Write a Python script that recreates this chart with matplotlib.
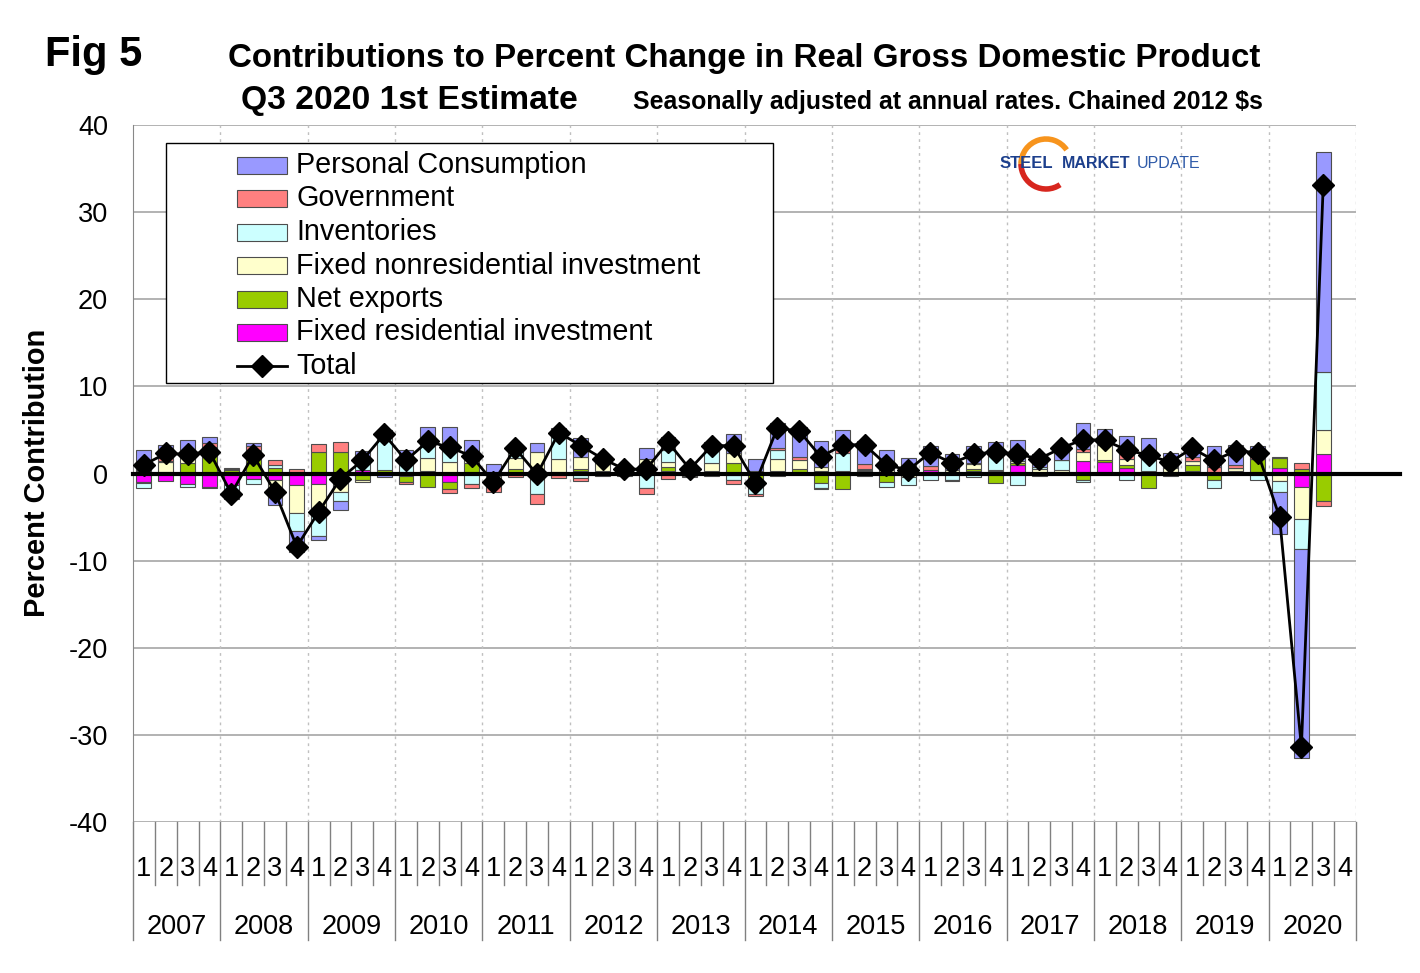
import numpy as np
import matplotlib
matplotlib.use("Agg")
import matplotlib.pyplot as plt
from matplotlib.patches import Rectangle, Arc
from matplotlib.lines import Line2D
import matplotlib.transforms as mtransforms

plt.rcParams['font.family'] = ['Liberation Sans', 'DejaVu Sans']
plt.rcParams['axes.unicode_minus'] = False

# ---- data (percentage points, SAAR), 2007Q1 .. 2020Q3 ----
years = ['2007', '2008', '2009', '2010', '2011', '2012', '2013',
         '2014', '2015', '2016', '2017', '2018', '2019', '2020']
quarter_labels = ['1', '2', '3', '4']

personal_consumption = [2.3, 1.5, 1.4, 0.7, -0.9, 0.3, -2.0, -2.4, -0.45, -1.05, 1.3, -0.4,
                        0.65, 2.1, 2.1, 1.7, 1.1, 0.45, 1.0, 0.4, 2.15, 0.5, 0.4, 1.2,
                        1.45, 0.3, 1.0, 2.2, 1.4, 2.9, 3.35, 2.9, 2.35, 2.6, 2.1, 1.2,
                        2.3, 1.8, 1.9, 1.1, 2.4, 1.5, 1.45, 3.0, 1.8, 2.0, 2.4, 1.65,
                        1.2, 2.4, 2.3, 1.1, -4.8, -24.0, 25.3]
government = [0.1, 0.4, 0.2, 0.5, 0.15, 0.4, 0.55, 0.55, 0.85, 1.1, 0.1, 0.0,
              -0.25, 0.1, -0.45, -0.55, -0.9, -0.4, -1.15, -0.3, -0.3, -0.3, 0.1, -0.6,
              -0.6, -0.1, -0.3, -0.45, -0.3, 0.2, 0.35, -0.1, 0.25, 0.6, 0.2, 0.2,
              0.5, -0.1, 0.2, 0.1, 0.0, 0.0, 0.05, 0.35, 0.1, 0.55, 0.0, 0.0,
              0.55, 0.75, 0.4, 0.35, 0.1, 0.7, -0.65]
inventories = [-0.6, 0.1, -0.3, -0.1, -0.65, -0.6, 0.4, -2.1, -2.6, -1.0, 0.8, 4.5,
               1.85, 1.3, 1.9, -1.15, -0.6, 1.1, -2.4, 3.1, -0.55, 0.2, -0.2, -1.7,
               1.35, 0.1, 1.4, -0.6, -1.6, 1.05, -0.1, -0.6, 2.1, -0.3, -0.6, -0.9,
               -0.7, -0.7, -0.4, 2.0, -1.3, 0.2, 1.2, -0.3, 0.0, -0.75, 1.35, 0.1,
               0.0, -0.95, 0.0, -0.75, -1.25, -3.5, 6.6]
fixed_nonres = [0.3, 1.1, 1.05, 0.4, 0.1, 0.15, -0.9, -3.2, -3.45, -1.7, -0.2, 0.1,
                0.2, 1.5, 1.35, 0.9, -0.3, 1.2, 2.45, 1.5, 1.4, 1.0, -0.1, 1.1,
                0.55, 0.2, 0.9, 1.1, 0.3, 1.45, 1.1, 0.5, 0.1, 0.1, 0.15, -0.3,
                -0.1, 0.2, 0.5, 0.1, 0.2, 0.5, 0.3, 1.05, 1.7, 0.75, 0.3, 0.4,
                0.45, 0.0, 0.3, 0.0, -0.85, -3.6, 2.8]
net_exports = [-0.1, 0.2, 1.15, 2.6, 0.4, 2.6, 0.6, 0.0, 2.5, 2.5, -0.75, 0.3,
               -0.65, -1.55, -0.85, 1.1, -0.2, 0.5, 0.0, -0.2, 0.2, 0.1, 0.05, 0.2,
               0.5, -0.3, 0.1, 1.2, -0.6, -0.3, 0.3, -1.05, -1.75, 0.1, -0.95, -0.1,
               0.0, 0.2, 0.3, -1.1, 0.2, -0.25, -0.1, -0.7, 0.25, 0.3, -1.7, -0.3,
               0.65, -0.75, 0.1, 1.5, 1.15, 0.5, -3.1]
fixed_res = [-1.0, -0.85, -1.2, -1.6, -1.35, -0.65, -0.7, -1.35, -1.15, -0.4, 0.35, 0.05,
             -0.3, 0.3, -0.95, 0.1, -0.1, 0.05, 0.0, 0.2, 0.3, 0.2, 0.25, 0.4,
             0.3, 0.3, 0.2, -0.2, -0.1, 0.25, 0.2, 0.3, 0.2, 0.3, 0.2, 0.35,
             0.4, -0.1, 0.25, 0.3, 1.0, 0.0, 0.05, 1.4, 1.3, 0.65, 0.0, 0.2,
             0.3, 0.0, 0.2, 0.2, 0.65, -1.6, 2.2]
total = [1.0, 2.3, 2.2, 2.5, -2.3, 2.1, -2.1, -8.4, -4.4, -0.6, 1.5, 4.5,
         1.5, 3.7, 3.0, 2.0, -1.0, 2.9, -0.1, 4.7, 3.2, 1.7, 0.5, 0.5,
         3.6, 0.5, 3.2, 3.2, -1.1, 5.2, 4.9, 1.9, 3.3, 3.3, 1.0, 0.4,
         2.4, 1.2, 2.2, 2.5, 2.2, 1.7, 2.9, 3.9, 3.8, 2.7, 2.1, 1.3,
         2.9, 1.5, 2.6, 2.4, -5.0, -31.4, 33.1]

# stacking order (from zero outward), colours
series = [
    ('Fixed residential investment', fixed_res, '#ff00ff'),
    ('Net exports', net_exports, '#99cc00'),
    ('Fixed nonresidential investment', fixed_nonres, '#ffffcc'),
    ('Inventories', inventories, '#ccffff'),
    ('Government', government, '#ff8080'),
    ('Personal Consumption', personal_consumption, '#9999ff'),
]

W, H = 1420, 973
fig = plt.figure(figsize=(W / 100, H / 100), dpi=100)
ax = fig.add_axes([133 / W, 1 - 822 / H, (1356 - 133) / W, (822 - 125) / H])

n_slots = len(years) * 4
x = np.arange(len(total))
pos_bottom = np.zeros(len(total))
neg_bottom = np.zeros(len(total))
for name, vals, col in series:
    v = np.array(vals)
    bottom = np.where(v >= 0, pos_bottom, neg_bottom)
    ax.bar(x, v, width=0.68, bottom=bottom, color=col, edgecolor='#4d4d4d',
           linewidth=0.8, zorder=2)
    pos_bottom += np.where(v >= 0, v, 0)
    neg_bottom += np.where(v < 0, v, 0)

ax.plot(x, total, color='black', lw=2, marker='D', markersize=11, zorder=5)

# zero line runs past the plot edge
ax.axhline(0, xmin=0, xmax=(1400 - 133) / (1356 - 133), color='black', lw=3,
           zorder=4, clip_on=False)

ax.set_xlim(-0.5, n_slots - 0.5)
ax.set_ylim(-40, 40)
ax.set_yticks(range(-40, 41, 10))
ax.tick_params(axis='y', labelsize=19.5, length=0, pad=18)
ax.set_xticks([])
for s in ['top', 'right', 'bottom']:
    ax.spines[s].set_visible(False)
ax.spines['left'].set_color('#888888')
ax.yaxis.grid(True, color='#a6a6a6', lw=1.2)
ax.set_axisbelow(True)

for k in range(1, len(years) + 1):
    ax.axvline(4 * k - 0.5, color='#c0c0c0', lw=1, ls=(0, (2, 3)), zorder=1)

# category axis below the plot
trans = mtransforms.blended_transform_factory(ax.transData, ax.transAxes)
for j in range(n_slots + 1):
    xb = j - 0.5
    y_end = -0.169 if j % 4 == 0 else -0.0904
    ax.plot([xb, xb], [0, y_end], color='#808080', lw=1, transform=trans,
            clip_on=False)
for j in range(n_slots):
    ax.text(j, -0.067, quarter_labels[j % 4], transform=trans, ha='center',
            va='center', fontsize=19.5)
for k, yr in enumerate(years):
    ax.text(4 * k + 1.5, -0.150, yr, transform=trans, ha='center', va='center',
            fontsize=19.5)

# titles
fig.text(45 / W, 1 - 55 / H, 'Fig 5', fontsize=30, fontweight='bold', va='center')
fig.text(228 / W, 1 - 58 / H, 'Contributions to Percent Change in Real Gross Domestic Product',
         fontsize=23.9, fontweight='bold', va='center')
fig.text(241 / W, 1 - 100 / H, 'Q3 2020 1st Estimate', fontsize=24.2,
         fontweight='bold', va='center')
fig.text(633 / W, 1 - 102 / H, 'Seasonally adjusted at annual rates. Chained 2012 $s',
         fontsize=17.9, fontweight='bold', va='center')
fig.text(37 / W, 1 - 473 / H, 'Percent Contribution', rotation=90, fontsize=20.9,
         fontweight='bold', ha='center', va='center')

# legend (drawn by hand to match the boxed layout)
fig.add_artist(Rectangle((166 / W, 1 - 383 / H), 607 / W, 240 / H, transform=fig.transFigure,
                         facecolor='white', edgecolor='black', lw=1, zorder=6))
legend_items = [(name, col) for name, _, col in series[::-1]]
for k, (name, col) in enumerate(legend_items):
    yc = 165 + 33.5 * k
    fig.add_artist(Rectangle((237 / W, 1 - (yc + 8.5) / H), 50 / W, 17 / H,
                             transform=fig.transFigure, facecolor=col,
                             edgecolor='#4d4d4d', lw=0.8, zorder=7))
    fig.text(296 / W, 1 - yc / H, name, fontsize=20.7, va='center', zorder=7)
yc = 165 + 33.5 * len(legend_items)
fig.add_artist(Line2D([237 / W, 287 / W], [1 - yc / H, 1 - yc / H], color='black', lw=2,
                      transform=fig.transFigure, zorder=7))
fig.add_artist(Line2D([262 / W], [1 - yc / H], marker='D', markersize=11, color='black',
                      transform=fig.transFigure, zorder=8))
fig.text(296 / W, 1 - yc / H, 'Total', fontsize=20.7, va='center', zorder=7)

# logo
cx, cy, r = 1046, 164, 25
fig.add_artist(Arc((cx / W, 1 - cy / H), 2 * r / W, 2 * r / H, theta1=45, theta2=180,
                   transform=fig.transFigure, color='#f7941d', lw=4, zorder=6))
fig.add_artist(Arc((cx / W, 1 - cy / H), 2 * r / W, 2 * r / H, theta1=180, theta2=295,
                   transform=fig.transFigure, color='#d7261e', lw=4, zorder=6))
fig.text(1000 / W, 1 - 164 / H, 'STEEL', fontsize=12, fontweight='bold', color='#1c3f8c',
         va='center', zorder=7)
fig.text(1062 / W, 1 - 164 / H, 'MARKET', fontsize=11.5, fontweight='bold', color='#1c3f8c',
         va='center', zorder=7)
fig.text(1137 / W, 1 - 164 / H, 'UPDATE', fontsize=11.5, color='#2e5aa8',
         va='center', zorder=7)

fig.savefig('out.png', dpi=100)
